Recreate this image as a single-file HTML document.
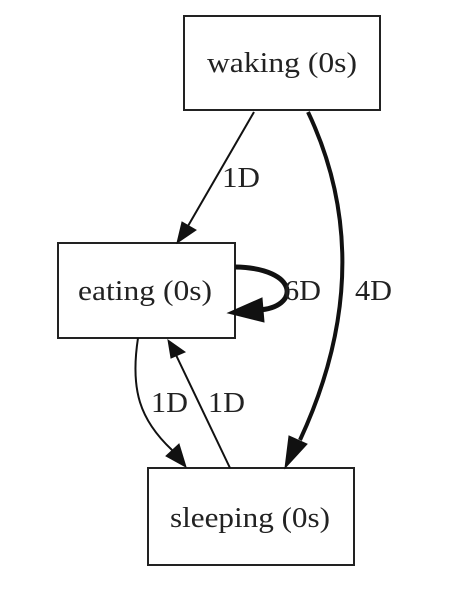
<!DOCTYPE html>
<html><head><style>body{margin:0;background:#fff}svg{display:block}</style></head><body>
<svg width="450" height="596" xmlns="http://www.w3.org/2000/svg" font-family="Liberation Serif, serif" font-size="28" fill="#222">
<g fill="none" stroke="#222" stroke-width="2">
<rect x="184" y="16" width="196" height="94"/>
<rect x="58" y="243" width="177" height="95"/>
<rect x="148" y="468" width="206" height="97"/>
</g>
<g fill="none" stroke="#111">
<path d="M254,112 L188,226" stroke-width="2"/>
<path d="M177,243 L182,222 L196,230 Z" fill="#111"/>
<path d="M308,112 C345,190 365,300 300,440" stroke-width="4"/>
<path d="M285,468 L289,436 L307,444 Z" fill="#111"/>
<path d="M235,267 C300,268 300,308 258,310" stroke-width="5"/>
<path d="M228,313 L262,298 L264,322 Z" fill="#111"/>
<path d="M138,338 C130,390 140,420 172,450" stroke-width="2"/>
<path d="M186,467 L166,456 L179,444 Z" fill="#111"/>
<path d="M230,468 L176,355" stroke-width="2"/>
<path d="M168,340 L185,352 L171,358 Z" fill="#111"/>
</g>
<text x="207" y="72" textLength="150" lengthAdjust="spacingAndGlyphs">waking (0s)</text>
<text x="78" y="300" textLength="134" lengthAdjust="spacingAndGlyphs">eating (0s)</text>
<text x="170" y="527" textLength="160" lengthAdjust="spacingAndGlyphs">sleeping (0s)</text>
<text x="222" y="187" textLength="38" lengthAdjust="spacingAndGlyphs">1D</text>
<text x="284" y="300" textLength="37" lengthAdjust="spacingAndGlyphs">6D</text>
<text x="355" y="300" textLength="37" lengthAdjust="spacingAndGlyphs">4D</text>
<text x="151" y="412" textLength="37" lengthAdjust="spacingAndGlyphs">1D</text>
<text x="208" y="412" textLength="37" lengthAdjust="spacingAndGlyphs">1D</text>
</svg>
</body></html>
